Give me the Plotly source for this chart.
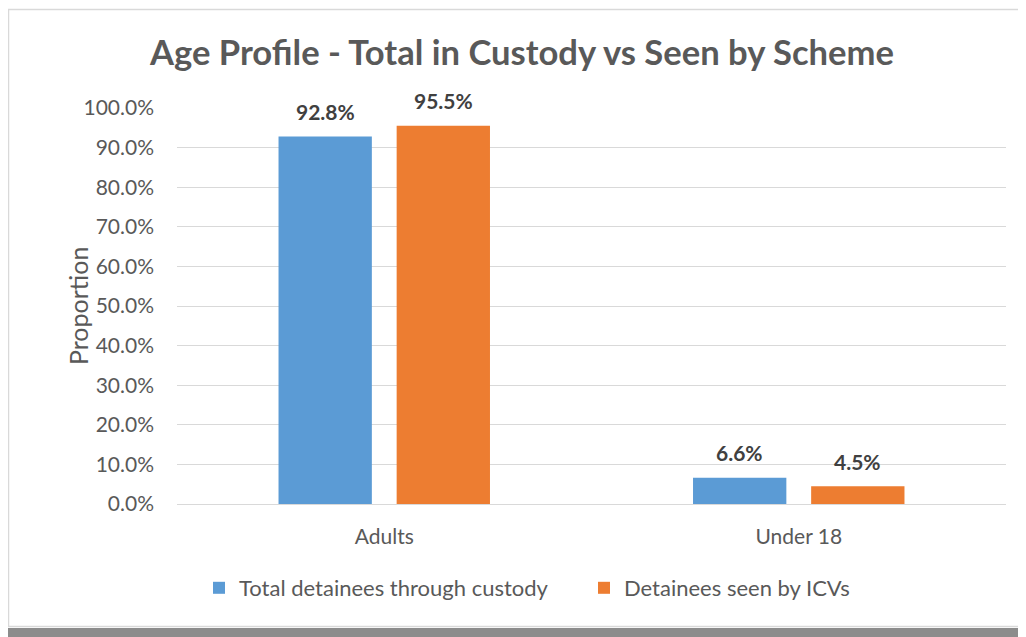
import plotly.graph_objects as go

# --- Data ---
categories = ["Adults", "Under 18"]
total_custody = [0.928, 0.066]
seen_by_icvs = [0.955, 0.045]
series_names = ["Total detainees through custody", "Detainees seen by ICVs"]
y_ticks = [0.0, 0.1, 0.2, 0.3, 0.4, 0.5, 0.6, 0.7, 0.8, 0.9, 1.0]

# --- Geometry, in screenshot pixels ---
# the page body has an 8px margin, so the figure starts at (8, 8)
OFF = 8
W, H = 1026 - OFF, 637 - OFF
PLOT_L, PLOT_R, PLOT_T, PLOT_B = 177, 1006, 108, 504
L, T = PLOT_L - OFF, PLOT_T - OFF
R, B = 1026 - PLOT_R, 637 - PLOT_B
pw, ph = PLOT_R - PLOT_L, PLOT_B - PLOT_T

BARGAP, GROUPGAP = 0.43, 0.21


def px_x(x):
    return (x - PLOT_L) / pw


def px_y(y):
    return (PLOT_B - y) / ph


font_family = "Lato, 'Open Sans', sans-serif"
grey_text = "#595959"
label_text = "#404040"

fig = go.Figure()
series = [
    (series_names[0], total_custody, "#5B9BD5"),
    (series_names[1], seen_by_icvs, "#ED7D31"),
]
for name, vals, colour in series:
    fig.add_trace(go.Bar(
        x=categories, y=vals, name=name,
        marker=dict(color=colour, line=dict(width=0)),
    ))

# data labels sit ~25px above the bars (Excel style), offset to each bar's slot
cat_px = pw / len(categories)
slot_px = cat_px * (1 - BARGAP) / len(series)
annotations = []
for i, (name, vals, colour) in enumerate(series):
    shift = (i - (len(series) - 1) / 2) * slot_px
    for cat, v in zip(categories, vals):
        annotations.append(dict(
            x=cat, y=v, xref="x", yref="y", text=f"<b>{v * 100:.1f}%</b>",
            showarrow=False, xshift=shift, yshift=25, yanchor="middle",
            font=dict(family=font_family, size=21, color=label_text),
        ))
annotations.append(dict(
    text="Proportion", textangle=-90, xref="paper", yref="paper",
    x=px_x(61), y=px_y(306), showarrow=False,
    font=dict(size=25, color=grey_text),
))

# chart frame + shadow like the Excel export
shapes = [
    dict(type="rect", xref="paper", yref="paper", layer="below",
         x0=px_x(8), x1=px_x(1040), y0=px_y(637), y1=px_y(628),
         fillcolor="#8C8C8C", line=dict(width=0)),
    dict(type="rect", xref="paper", yref="paper", layer="below",
         x0=px_x(8.5), x1=px_x(1040), y0=px_y(626.5), y1=px_y(9.5),
         fillcolor="white", line=dict(color="#D9D9D9", width=1.5)),
]

fig.update_layout(
    width=W, height=H,
    margin=dict(l=L, r=R, t=T, b=B),
    paper_bgcolor="white", plot_bgcolor="white",
    font=dict(family=font_family, color=grey_text, size=21),
    title=dict(
        text="<b>Age Profile - Total in Custody vs Seen by Scheme</b>",
        font=dict(family=font_family, size=34.6, color=grey_text),
        x=px_x(522), xref="paper", xanchor="center",
        y=1 - (53 - OFF) / H, yref="container", yanchor="middle",
    ),
    barmode="group", bargap=BARGAP, bargroupgap=GROUPGAP,
    showlegend=True,
    legend=dict(
        orientation="h", x=px_x(584), xanchor="center",
        y=px_y(588), yanchor="middle",
        font=dict(size=22, color=grey_text),
        traceorder="normal", entrywidth=340, entrywidthmode="pixels",
    ),
    shapes=shapes,
    annotations=annotations,
)

fig.update_yaxes(
    range=[0, 1.0], tickvals=y_ticks, tickformat=".1%",
    showgrid=True, gridcolor="#D9D9D9", gridwidth=1.3,
    zeroline=True, zerolinecolor="#D9D9D9", zerolinewidth=1.3,
    showline=False, ticks="", ticklabelstandoff=22,
    tickfont=dict(size=21, color=grey_text),
)
fig.update_xaxes(
    showgrid=False, showline=False, ticks="", ticklabelstandoff=18,
    tickfont=dict(size=21, color=grey_text),
)

fig.write_html("out.html")
